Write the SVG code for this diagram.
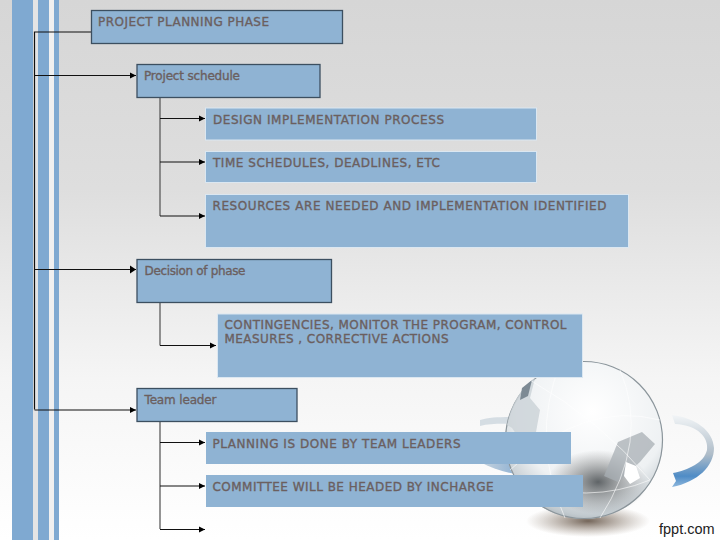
<svg xmlns="http://www.w3.org/2000/svg" width="720" height="540" viewBox="0 0 720 540">
<style>
.box{fill:#8fb3d3}
.dark{stroke:#3c4f60;stroke-width:1.3}
.light{stroke:#dbe7f1;stroke-width:1}
.t{font-family:"DejaVu Sans","Liberation Sans",sans-serif;font-size:12px;fill:#6b5f5f;stroke:#6b5f5f;stroke-width:.35}
.c{fill:none;stroke:#111;stroke-width:1.2}
.g{fill:none;stroke:#5c5c5c;stroke-width:1.3}
.m{fill:none;stroke:#fff;stroke-width:1;opacity:.6}
</style>
<defs>
<linearGradient id="bg" x1="0" y1="0" x2="0" y2="1">
<stop offset="0" stop-color="#d6d6d6"/><stop offset=".35" stop-color="#dedede"/><stop offset=".7" stop-color="#f5f5f5"/><stop offset="1" stop-color="#ffffff"/>
</linearGradient>
<radialGradient id="globe" cx=".55" cy=".32" r=".8">
<stop offset="0" stop-color="#ffffff"/><stop offset=".6" stop-color="#eef1f3"/><stop offset=".82" stop-color="#c3cbd0"/><stop offset="1" stop-color="#7f8a90"/>
</radialGradient>
<radialGradient id="sh"><stop offset="0" stop-color="#5b4a3c" stop-opacity=".85"/><stop offset="1" stop-color="#8a7a6a" stop-opacity="0"/></radialGradient>
<radialGradient id="dk"><stop offset="0" stop-color="#4f5457" stop-opacity=".9"/><stop offset="1" stop-color="#777" stop-opacity="0"/></radialGradient>
<linearGradient id="sw" x1="0" y1="0" x2="0" y2="1"><stop offset="0" stop-color="#f2f5f7"/><stop offset=".55" stop-color="#aebcc8"/><stop offset=".85" stop-color="#4f8cc6"/><stop offset="1" stop-color="#8fb8dd"/></linearGradient>
<linearGradient id="sb" x1="0" y1="0" x2="1" y2="0"><stop offset="0" stop-color="#c8d4de"/><stop offset=".5" stop-color="#6a9bcc"/><stop offset="1" stop-color="#7fa6cc"/></linearGradient>
<marker id="a" markerWidth="8" markerHeight="8" refX="6" refY="4" orient="auto" markerUnits="userSpaceOnUse"><path d="M0 1L6 4L0 7z" fill="#000"/></marker>
<marker id="b" markerWidth="8" markerHeight="10" refX="6" refY="5" orient="auto" markerUnits="userSpaceOnUse"><path d="M0 1L6 5L0 9z" fill="#000"/></marker>
</defs>
<rect width="720" height="540" fill="url(#bg)"/>
<g id="stripes">
<rect x="12" width="21" height="540" fill="#7fa9d1"/>
<rect x="38" width="11" height="540" fill="#7fa9d1"/>
<rect x="54" width="5" height="540" fill="#7fa9d1"/>
<rect x="49" width="5" height="540" fill="#f0f0f0"/>
<rect x="33" width="5" height="540" fill="#e4e4e4"/>
</g>
<g id="globe-art">
<ellipse cx="588" cy="521" rx="62" ry="16" fill="url(#sh)"/>
<path d="M480 420C490 417 502 417 520 417L520 424C505 424 492 423 480 426z" fill="#d5dde3"/>
<path d="M480 462H600V476H540C520 476 498 472 480 462z" fill="url(#sb)"/>
<circle cx="584" cy="440" r="79" fill="url(#globe)"/>
<circle cx="584" cy="440" r="78.500" fill="none" stroke="#8b959b" stroke-width="1.200"/>
<ellipse cx="598" cy="482" rx="50" ry="32" fill="url(#dk)"/>
<path d="M507 425C512 400 525 385 535 378L530 398L540 410L536 432L520 440L512 428z" fill="#ccd3d8" opacity=".85"/>
<path d="M522 388L532 380L528 396L520 400z" fill="#7d8a94"/>
<path d="M618 442L642 432L655 444L640 462L618 482L604 476z" fill="#a8afb4" opacity=".75"/>
<path d="M626 462L636 466L640 478L630 484L624 476z" fill="#fff"/>
<path class="m" d="M510 470Q584 400 660 420M530 380Q600 420 650 480M560 364Q530 440 565 518M620 370Q650 440 600 518M515 482Q590 505 650 480"/>
<path d="M672 415L675 424C698 425 709 438 707 450C704 463 688 470 673 473L676 481L672 487C698 482 714 466 714 448C713 430 695 418 672 415z" fill="url(#sw)"/>
</g>
<g id="connectors">
<path class="c" d="M91 32H34.500V409.500"/>
<path class="c" d="M34.500 75.500H136" marker-end="url(#a)"/>
<path class="c" d="M34.500 269.500H136" marker-end="url(#b)"/>
<path class="c" d="M34.500 410H136" marker-end="url(#a)"/>
<path class="g" d="M160 97V216"/>
<path class="c" d="M160 118.500H205" marker-end="url(#a)"/>
<path class="c" d="M160 162H205" marker-end="url(#a)"/>
<path class="c" d="M160 216H205" marker-end="url(#a)"/>
<path class="g" d="M160 303V345.500"/>
<path class="c" d="M160 345.500H216" marker-end="url(#a)"/>
<path class="g" d="M160 421V529"/>
<path class="c" d="M160 442.500H205" marker-end="url(#a)"/>
<path class="c" d="M160 486H205" marker-end="url(#a)"/>
<path class="c" d="M160 529.500H205" marker-end="url(#a)"/>
</g>
<g id="n1"><rect class="box dark" x="91.500" y="10.500" width="251" height="33"/><text class="t" x="98" y="26" textLength="171">PROJECT PLANNING PHASE</text></g>
<g id="n2"><rect class="box dark" x="137" y="64.500" width="183" height="33"/><text class="t" x="144" y="80" textLength="96">Project schedule</text></g>
<g id="n3"><rect class="box light" x="205.500" y="108" width="331" height="32"/><text class="t" x="213" y="124" textLength="231">DESIGN IMPLEMENTATION PROCESS</text></g>
<g id="n4"><rect class="box light" x="205.500" y="151.500" width="331" height="31"/><text class="t" x="213" y="167" textLength="227">TIME SCHEDULES, DEADLINES, ETC</text></g>
<g id="n5"><rect class="box light" x="205.500" y="194.500" width="423" height="53"/><text class="t" x="212.500" y="210" textLength="394">RESOURCES ARE NEEDED AND IMPLEMENTATION IDENTIFIED</text></g>
<g id="n6"><rect class="box dark" x="137" y="259.500" width="194.500" height="43"/><text class="t" x="144.500" y="275" textLength="101">Decision of phase</text></g>
<g id="n7"><rect class="box light" x="217.500" y="314" width="365" height="63.500"/><text class="t" x="224.500" y="329" textLength="342">CONTINGENCIES, MONITOR THE PROGRAM, CONTROL</text><text class="t" x="224.500" y="343" textLength="224">MEASURES , CORRECTIVE ACTIONS</text></g>
<g id="n8"><rect class="box dark" x="137" y="388.500" width="160" height="33"/><text class="t" x="144.500" y="404" textLength="72">Team leader</text></g>
<g id="n9"><rect class="box" x="206" y="432" width="365" height="32"/><text class="t" x="212.500" y="448" textLength="248">PLANNING IS DONE BY TEAM LEADERS</text></g>
<g id="n10"><rect class="box" x="206" y="475" width="377" height="32"/><text class="t" x="212.500" y="491" textLength="281">COMMITTEE WILL BE HEADED BY INCHARGE</text></g>
<text x="659" y="534" font-family="'Liberation Sans',Arial,sans-serif" font-size="14.500" fill="#222">fppt.com</text>
</svg>
